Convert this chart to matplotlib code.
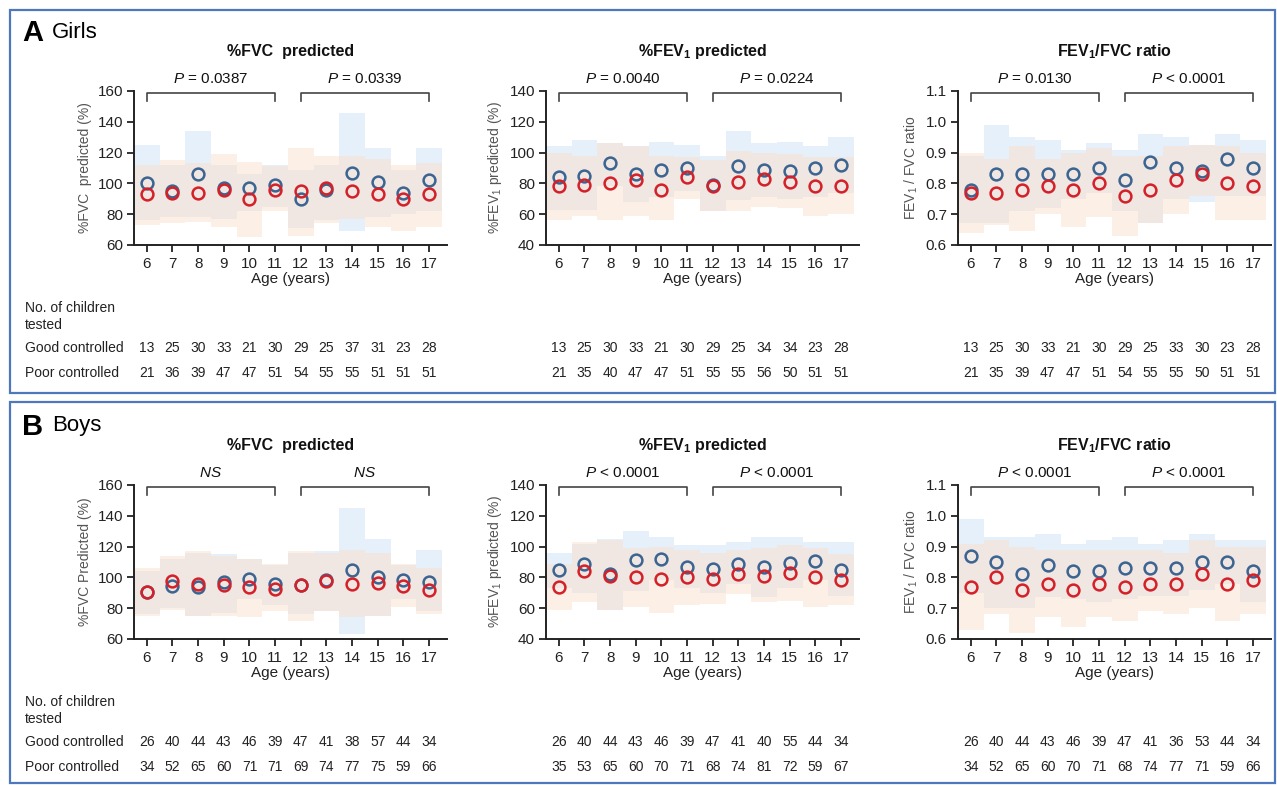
from matplotlib import pyplot as plt
from matplotlib import transforms
from matplotlib.patches import Rectangle

plt.rcParams['font.family'] = ['Liberation Sans', 'DejaVu Sans']
plt.rcParams['mathtext.fontset'] = 'custom'
plt.rcParams['mathtext.rm'] = 'Liberation Sans'
plt.rcParams['mathtext.it'] = 'Liberation Sans:italic'
plt.rcParams['mathtext.bf'] = 'Liberation Sans:bold'

ages = [6, 7, 8, 9, 10, 11, 12, 13, 14, 15, 16, 17]

#### GIRLS ###################################
girls_fvc_good = [100, 95, 106, 97, 97, 99, 90, 96, 107, 101, 94, 102]
girls_fvc_poor = [93, 94, 94, 96, 90, 96, 95, 97, 95, 93, 90, 93]
girls_fvc_good_hi = [125, 112, 134, 112, 106, 112, 109, 112, 146, 123, 109, 123]
girls_fvc_good_lo = [76, 78, 78, 77, 82, 85, 71, 76, 69, 78, 80, 82]
girls_fvc_poor_hi = [112, 115, 113, 119, 114, 111, 123, 118, 118, 116, 112, 113]
girls_fvc_poor_lo = [73, 74, 75, 72, 65, 82, 66, 74, 77, 72, 69, 72]

girls_fev_good = [84, 85, 93, 86, 89, 90, 79, 91, 89, 88, 90, 92]
girls_fev_poor = [78, 79, 80, 82, 76, 84, 78, 81, 83, 81, 78, 78]
girls_fev_good_hi = [104, 108, 106, 104, 107, 105, 98, 114, 106, 107, 104, 110]
girls_fev_good_lo = [63, 63, 78, 68, 71, 75, 62, 69, 71, 70, 71, 74]
girls_fev_poor_hi = [100, 98, 106, 104, 98, 97, 95, 101, 100, 99, 97, 97]
girls_fev_poor_lo = [56, 59, 56, 59, 56, 70, 62, 62, 65, 64, 59, 60]

girls_ratio_good = [0.78, 0.83, 0.83, 0.83, 0.83, 0.85, 0.81, 0.87, 0.85, 0.84, 0.88, 0.85]
girls_ratio_poor = [0.77, 0.77, 0.78, 0.79, 0.78, 0.80, 0.76, 0.78, 0.81, 0.83, 0.80, 0.79]
girls_ratio_good_hi = [0.89, 0.99, 0.95, 0.94, 0.91, 0.93, 0.91, 0.96, 0.95, 0.925, 0.96, 0.94]
girls_ratio_good_lo = [0.67, 0.67, 0.71, 0.72, 0.75, 0.77, 0.71, 0.67, 0.75, 0.74, 0.76, 0.76]
girls_ratio_poor_hi = [0.90, 0.88, 0.92, 0.88, 0.90, 0.915, 0.89, 0.89, 0.92, 0.925, 0.92, 0.90]
girls_ratio_poor_lo = [0.64, 0.665, 0.645, 0.70, 0.66, 0.69, 0.63, 0.67, 0.70, 0.76, 0.68, 0.68]

girls_fvc_n_good = [13, 25, 30, 33, 21, 30, 29, 25, 37, 31, 23, 28]
girls_fvc_n_poor = [21, 36, 39, 47, 47, 51, 54, 55, 55, 51, 51, 51]
girls_fev_n_good = [13, 25, 30, 33, 21, 30, 29, 25, 34, 34, 23, 28]
girls_fev_n_poor = [21, 35, 40, 47, 47, 51, 55, 55, 56, 50, 51, 51]
girls_ratio_n_good = [13, 25, 30, 33, 21, 30, 29, 25, 33, 30, 23, 28]
girls_ratio_n_poor = [21, 35, 39, 47, 47, 51, 54, 55, 55, 50, 51, 51]

#### BOYS ####################################
boys_fvc_good = [90.5, 94.5, 93.5, 97, 99, 96, 95, 98.5, 105, 100.5, 98, 97]
boys_fvc_poor = [90.5, 97.5, 96, 95, 93.5, 92.5, 95, 97.5, 96, 96.5, 94.5, 92]
boys_fvc_good_hi = [104, 112, 116, 115, 112, 108, 116, 117, 145, 125, 108, 118]
boys_fvc_good_lo = [76, 80, 75, 77, 86, 82, 76, 78, 63, 75, 86, 78]
boys_fvc_poor_hi = [106, 114, 117, 114, 112, 109, 117, 116, 118, 116, 109, 106]
boys_fvc_poor_lo = [75, 79, 75, 75, 74, 78, 72, 78, 74, 75, 81, 76]

boys_fev_good = [84.5, 89, 82, 91.5, 92, 87, 85.5, 89, 87, 89.5, 90.5, 85]
boys_fev_poor = [74, 84, 81, 80, 79, 80, 79, 82.5, 81, 83, 80, 78.5]
boys_fev_good_hi = [96, 102, 105, 110, 106, 101, 101, 103, 106, 106, 103, 103]
boys_fev_good_lo = [73, 70, 59, 71, 78, 73, 70, 76, 67, 73, 78, 68]
boys_fev_poor_hi = [89, 103, 104, 99, 100, 98, 96, 98, 99, 101, 99, 95]
boys_fev_poor_lo = [59, 64, 59, 61, 57, 62, 63, 69, 64, 65, 61, 62]

boys_ratio_good = [0.87, 0.85, 0.81, 0.84, 0.82, 0.82, 0.83, 0.83, 0.83, 0.85, 0.85, 0.82]
boys_ratio_poor = [0.77, 0.80, 0.76, 0.78, 0.76, 0.78, 0.77, 0.78, 0.78, 0.81, 0.78, 0.79]
boys_ratio_good_hi = [0.99, 0.93, 0.93, 0.94, 0.91, 0.92, 0.93, 0.91, 0.92, 0.94, 0.92, 0.92]
boys_ratio_good_lo = [0.75, 0.70, 0.70, 0.735, 0.73, 0.72, 0.73, 0.74, 0.74, 0.76, 0.78, 0.72]
boys_ratio_poor_hi = [0.91, 0.92, 0.90, 0.89, 0.89, 0.89, 0.89, 0.89, 0.88, 0.92, 0.90, 0.90]
boys_ratio_poor_lo = [0.63, 0.68, 0.62, 0.67, 0.64, 0.67, 0.66, 0.69, 0.68, 0.70, 0.66, 0.68]

boys_fvc_n_good = [26, 40, 44, 43, 46, 39, 47, 41, 38, 57, 44, 34]
boys_fvc_n_poor = [34, 52, 65, 60, 71, 71, 69, 74, 77, 75, 59, 66]
boys_fev_n_good = [26, 40, 44, 43, 46, 39, 47, 41, 40, 55, 44, 34]
boys_fev_n_poor = [35, 53, 65, 60, 70, 71, 68, 74, 81, 72, 59, 67]
boys_ratio_n_good = [26, 40, 44, 43, 46, 39, 47, 41, 36, 53, 44, 34]
boys_ratio_n_poor = [34, 52, 65, 60, 70, 71, 68, 74, 77, 71, 59, 66]

girls_p = [['P = 0.0387', 'P = 0.0339'], ['P = 0.0040', 'P = 0.0224'], ['P = 0.0130', 'P < 0.0001']]
boys_p = [['NS', 'NS'], ['P < 0.0001', 'P < 0.0001'], ['P < 0.0001', 'P < 0.0001']]

blue = '#3b6491'
red = '#d42028'
frame_col = '#4f77be'

W, H = 1277, 785
fig = plt.figure(figsize=(W / 100, H / 100), dpi=100)


def fx(px):
    return px / W


def fy(py):
    return 1 - py / H


def p_label(s):
    if s == 'NS':
        return '$\\it{NS}$'
    return '$\\it{P}$' + s[1:]


def panel(left_px, title, ylabel, ylim, yticks, yfmt,
          good, poor, ghi, glo, phi, plo, ptexts, n_good, n_poor, dy):
    ax = fig.add_axes([fx(left_px), fy(245 + dy), fx(313), 154 / H])
    ax.set_xlim(5.5, 17.7)
    ax.set_ylim(*ylim)

    # bands: good (blue) then poor (orange) on top
    ax.bar(ages, [h - l for h, l in zip(ghi, glo)], bottom=glo, width=1.0,
           color='#e6f0fb', lw=0, zorder=1)
    ax.bar(ages, [h - l for h, l in zip(phi, plo)], bottom=plo, width=1.0,
           color='#fbe0cd', alpha=0.5, lw=0, zorder=2)

    ax.plot(ages, good, 'o', mfc='none', mec=blue, mew=1.8, ms=8.5, zorder=3)
    ax.plot(ages, poor, 'o', mfc='none', mec=red, mew=1.8, ms=8.5, zorder=4)

    ax.set_xticks(ages)
    ax.set_yticks(yticks)
    ax.set_yticklabels([yfmt % v for v in yticks])
    for s in ['top', 'right']:
        ax.spines[s].set_visible(False)
    for s in ['left', 'bottom']:
        ax.spines[s].set_linewidth(1.4)
        ax.spines[s].set_color('#222222')
    ax.tick_params(direction='out', length=5, width=1.3, labelsize=11,
                   colors='#222222', pad=3)
    ax.tick_params(axis='x', pad=4)
    ax.set_xlabel('Age (years)', fontsize=11, color='#222222', labelpad=0)
    ax.set_ylabel(ylabel, fontsize=10, color='#555555', labelpad=4)

    ax.text(0.5, 1.255, title, transform=ax.transAxes, ha='center', va='center',
            fontsize=11.5, fontweight='bold', color='#111111')

    # brackets with p-values
    span = ylim[1] - ylim[0]
    top = ylim[1] - 0.01 * span
    leg = ylim[1] - 0.065 * span
    for (a, b), txt in zip([(6, 11), (12, 17)], ptexts):
        ax.plot([a, a, b, b], [leg, top, top, leg], color='#444444', lw=1.2,
                clip_on=False)
        ax.text((a + b) / 2.0, ylim[1] + 0.08 * span, p_label(txt),
                ha='center', va='center', fontsize=11, color='#111111')

    # table of counts
    tr = transforms.blended_transform_factory(ax.transData, fig.transFigure)
    for a, g, p in zip(ages, n_good, n_poor):
        fig.text(a, fy(348 + dy), str(g), transform=tr, ha='center', va='center',
                 fontsize=10, color='#222222')
        fig.text(a, fy(373 + dy), str(p), transform=tr, ha='center', va='center',
                 fontsize=10, color='#222222')
    return ax


def section(dy, letter, name, data, ptexts, fvc_label):
    bottom_px = 393 if dy == 0 else 783
    height_px = 383 if dy == 0 else 381
    fig.patches.append(Rectangle((fx(10), fy(bottom_px)), fx(1265), height_px / H,
                                 transform=fig.transFigure, fill=False,
                                 ec=frame_col, lw=1.6))
    fig.text(fx(22), fy(33 + dy), letter, fontsize=21, fontweight='bold',
             va='center', ha='left')
    fig.text(fx(52), fy(32 + dy), name, fontsize=16, va='center', ha='left')
    for lbl, y in [('No. of children', 308), ('tested', 325),
                   ('Good controlled', 348), ('Poor controlled', 373)]:
        fig.text(fx(25), fy(y + dy), lbl, fontsize=10, va='center', ha='left',
                 color='#222222')
    lefts = [134, 546, 958]
    titles = ['%FVC  predicted', '%FEV$_\\mathbf{1}$ predicted', 'FEV$_\\mathbf{1}$/FVC ratio']
    ylabels = [fvc_label, '%FEV$_1$ predicted (%)', 'FEV$_1$ / FVC ratio']
    ylims = [(60, 160), (40, 140), (0.6, 1.1)]
    yticks = [[60, 80, 100, 120, 140, 160], [40, 60, 80, 100, 120, 140],
              [0.6, 0.7, 0.8, 0.9, 1.0, 1.1]]
    fmts = ['%d', '%d', '%.1f']
    for i in range(3):
        panel(lefts[i], titles[i], ylabels[i], ylims[i], yticks[i], fmts[i],
              *data[i], ptexts[i], *data[i + 3], dy)


girls_data = [
    (girls_fvc_good, girls_fvc_poor, girls_fvc_good_hi, girls_fvc_good_lo,
     girls_fvc_poor_hi, girls_fvc_poor_lo),
    (girls_fev_good, girls_fev_poor, girls_fev_good_hi, girls_fev_good_lo,
     girls_fev_poor_hi, girls_fev_poor_lo),
    (girls_ratio_good, girls_ratio_poor, girls_ratio_good_hi, girls_ratio_good_lo,
     girls_ratio_poor_hi, girls_ratio_poor_lo),
    (girls_fvc_n_good, girls_fvc_n_poor),
    (girls_fev_n_good, girls_fev_n_poor),
    (girls_ratio_n_good, girls_ratio_n_poor),
]
boys_data = [
    (boys_fvc_good, boys_fvc_poor, boys_fvc_good_hi, boys_fvc_good_lo,
     boys_fvc_poor_hi, boys_fvc_poor_lo),
    (boys_fev_good, boys_fev_poor, boys_fev_good_hi, boys_fev_good_lo,
     boys_fev_poor_hi, boys_fev_poor_lo),
    (boys_ratio_good, boys_ratio_poor, boys_ratio_good_hi, boys_ratio_good_lo,
     boys_ratio_poor_hi, boys_ratio_poor_lo),
    (boys_fvc_n_good, boys_fvc_n_poor),
    (boys_fev_n_good, boys_fev_n_poor),
    (boys_ratio_n_good, boys_ratio_n_poor),
]

section(0, 'A', 'Girls', girls_data, girls_p, '%FVC  predicted (%)')
section(394, 'B', 'Boys', boys_data, boys_p, '%FVC Predicted (%)')

fig.savefig('out.png', dpi=100)
